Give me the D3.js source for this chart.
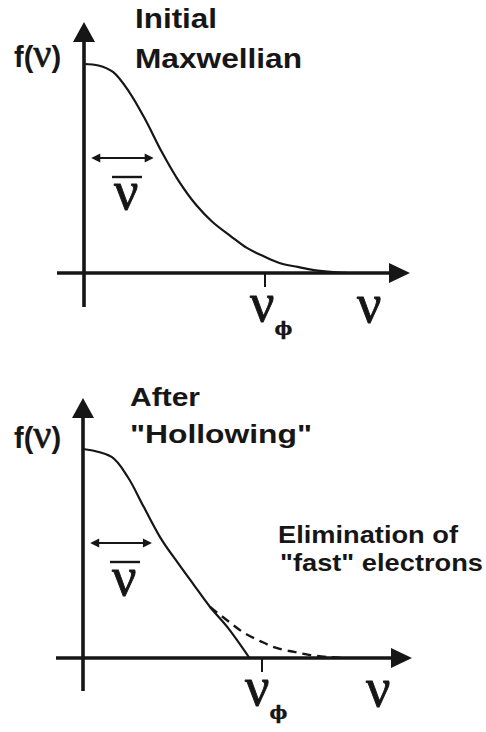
<!DOCTYPE html>
<html><head><meta charset="utf-8">
<script src="https://cdn.jsdelivr.net/npm/d3@7"></script>
<style>
html,body{margin:0;padding:0;background:#fff;}
svg{display:block;}
</style></head>
<body>
<svg id="chart" width="486" height="732"></svg>
<script>
// Initial Maxwellian f(v), in units where v_phi = 1 and f(0) = 1
const maxwellV = [0, 0.08, 0.16, 0.25, 0.34, 0.43, 0.53, 0.62, 0.71, 0.81, 0.90, 0.99, 1.08, 1.18, 1.27, 1.38, 1.46];
const maxwellF = [1.0, 0.993, 0.962, 0.866, 0.732, 0.579, 0.431, 0.325, 0.244, 0.177, 0.12, 0.081, 0.048, 0.029, 0.014, 0.004, 0];
// Distribution after hollowing: the fast tail is cut off before v_phi
const hollowV = [0, 0.16, 0.25, 0.34, 0.44, 0.53, 0.62, 0.71, 0.81, 0.93];
const hollowF = [1.0, 0.962, 0.866, 0.722, 0.565, 0.455, 0.349, 0.244, 0.144, 0];
// velocity where the removed tail branches off the hollowed curve
const tailStartV = 0.71;
const phaseVelocity = 1;            // v_phi tick
const meanVelocity = [0.04, 0.385]; // extent of the v-bar arrow
const meanArrowF = 0.55;

// Text
const panelTitles = [["Initial", "Maxwellian"], ["After", "\"Hollowing\""]];
const yLabel = ["f(", "ν", ")"];
const xLabel = "ν";
const tickLabel = ["ν", "ϕ"];
const meanLabel = "ν";
const tailNote = ["Elimination of", "\"fast\" electrons"];

const INK = "#161616";
const SANS = "'Liberation Sans', Arial, sans-serif";
const SERIF = "'Liberation Serif', 'Times New Roman', serif";
const PHI_FONT = "'DejaVu Serif', serif";

const svg = d3.select("#chart");

const panels = [
  { x0: 84, x1: 265, y0: 273, yTop: 64, axisTop: 22, axisBottom: 307, axisLeft: 57, axisRight: 410,
    titleX: 135, titleY: [28, 68], titleLen: [82, 167], titleSize: 27,
    yLab: [14, 67], xLab: [357, 322], tickLab: [250, 321], meanLab: [114, 209, 177] },
  { x0: 83, x1: 262, y0: 658, yTop: 449, axisTop: 398, axisBottom: 691, axisLeft: 56, axisRight: 412,
    titleX: 130, titleY: [406, 443], titleLen: [70, 182], titleSize: 26,
    yLab: [14, 448], xLab: [366, 706], tickLab: [245, 705], meanLab: [112, 595, 562] }
];

// Greek letters are drawn slightly emboldened with a thin outline
function greek(sel) {
  return sel.attr("font-family", SERIF).attr("fill", INK)
    .attr("stroke", INK).attr("stroke-width", 0.9).attr("stroke-linejoin", "round");
}

function drawPanel(p, idx) {
  const g = svg.append("g");
  const x = d3.scaleLinear().domain([0, phaseVelocity]).range([p.x0, p.x1]);
  const y = d3.scaleLinear().domain([0, 1]).range([p.y0, p.yTop]);

  // axes with filled arrowheads
  g.append("line").attr("x1", p.x0).attr("x2", p.x0).attr("y1", p.axisBottom).attr("y2", p.axisTop + 12)
    .attr("stroke", INK).attr("stroke-width", 3.6);
  g.append("line").attr("x1", p.axisLeft).attr("x2", p.axisRight - 12).attr("y1", p.y0).attr("y2", p.y0)
    .attr("stroke", INK).attr("stroke-width", 3.6);
  g.append("path").attr("d", `M${p.x0},${p.axisTop} L${p.x0 - 11},${p.axisTop + 20} L${p.x0 + 11},${p.axisTop + 20} Z`)
    .attr("fill", INK);
  g.append("path").attr("d", `M${p.axisRight},${p.y0} L${p.axisRight - 21},${p.y0 - 10} L${p.axisRight - 21},${p.y0 + 10} Z`)
    .attr("fill", INK);

  // v_phi tick
  g.append("line").attr("x1", x(phaseVelocity)).attr("x2", x(phaseVelocity))
    .attr("y1", p.y0).attr("y2", p.y0 + 14).attr("stroke", INK).attr("stroke-width", 2);

  const line = d3.line().x(d => x(d[0])).y(d => y(d[1])).curve(d3.curveCatmullRom.alpha(0.5));
  const maxwell = maxwellV.map((v, i) => [v, maxwellF[i]]);

  if (idx === 0) {
    g.append("path").attr("d", line(maxwell)).attr("fill", "none").attr("stroke", INK).attr("stroke-width", 2.2);
  } else {
    const tail = maxwell.filter(d => d[0] >= tailStartV);
    g.append("path").attr("d", line(tail)).attr("fill", "none").attr("stroke", INK)
      .attr("stroke-width", 2.4).attr("stroke-dasharray", "9,6");
    const hollow = hollowV.map((v, i) => [v, hollowF[i]]);
    g.append("path").attr("d", line(hollow)).attr("fill", "none").attr("stroke", INK).attr("stroke-width", 2.2);
  }

  // mean velocity double arrow
  const ay = y(meanArrowF), ax1 = x(meanVelocity[0]), ax2 = x(meanVelocity[1]);
  g.append("line").attr("x1", ax1 + 4).attr("x2", ax2 - 4).attr("y1", ay).attr("y2", ay)
    .attr("stroke", INK).attr("stroke-width", 2);
  g.append("path").attr("d", `M${ax1},${ay} L${ax1 + 9},${ay - 4.5} L${ax1 + 9},${ay + 4.5} Z`).attr("fill", INK);
  g.append("path").attr("d", `M${ax2},${ay} L${ax2 - 9},${ay - 4.5} L${ax2 - 9},${ay + 4.5} Z`).attr("fill", INK);

  // v-bar label
  greek(g.append("text")).attr("x", p.meanLab[0]).attr("y", p.meanLab[1])
    .attr("font-size", 54).text(meanLabel);
  g.append("line").attr("x1", p.meanLab[0] - 2).attr("x2", p.meanLab[0] + 28)
    .attr("y1", p.meanLab[2]).attr("y2", p.meanLab[2]).attr("stroke", INK).attr("stroke-width", 2.4);

  // titles
  panelTitles[idx].forEach((t, i) => {
    g.append("text").attr("x", p.titleX).attr("y", p.titleY[i]).attr("font-family", SANS)
      .attr("font-weight", "bold").attr("font-size", p.titleSize).attr("fill", INK)
      .attr("textLength", p.titleLen[i]).attr("lengthAdjust", "spacingAndGlyphs").text(t);
  });

  // y label f(v)
  const yl = g.append("text").attr("x", p.yLab[0]).attr("y", p.yLab[1]).attr("fill", INK).attr("font-size", 29);
  yl.append("tspan").attr("font-family", SANS).attr("font-weight", "bold").text(yLabel[0]);
  yl.append("tspan").attr("font-family", SERIF).attr("font-size", 40)
    .attr("stroke", INK).attr("stroke-width", 0.7).text(yLabel[1]);
  yl.append("tspan").attr("font-family", SANS).attr("font-weight", "bold").text(yLabel[2]);

  // x label
  greek(g.append("text")).attr("x", p.xLab[0]).attr("y", p.xLab[1])
    .attr("font-size", 54).text(xLabel);

  // v_phi label with subscript
  const tl = greek(g.append("text")).attr("x", p.tickLab[0]).attr("y", p.tickLab[1]);
  tl.append("tspan").attr("font-size", 54).text(tickLabel[0]);
  tl.append("tspan").attr("font-family", PHI_FONT).attr("font-weight", "bold").attr("font-size", 19)
    .attr("stroke-width", 0.3).attr("dy", 14).text(tickLabel[1]);

  if (idx === 1) {
    const noteY = [543, 571], noteLen = [180, 203];
    tailNote.forEach((t, i) => {
      g.append("text").attr("x", 278 + (i ? 2 : 0)).attr("y", noteY[i]).attr("font-family", SANS)
        .attr("font-weight", "bold").attr("font-size", 24).attr("fill", INK)
        .attr("textLength", noteLen[i]).attr("lengthAdjust", "spacingAndGlyphs").text(t);
    });
  }
}

panels.forEach(drawPanel);
</script>
</body></html>
